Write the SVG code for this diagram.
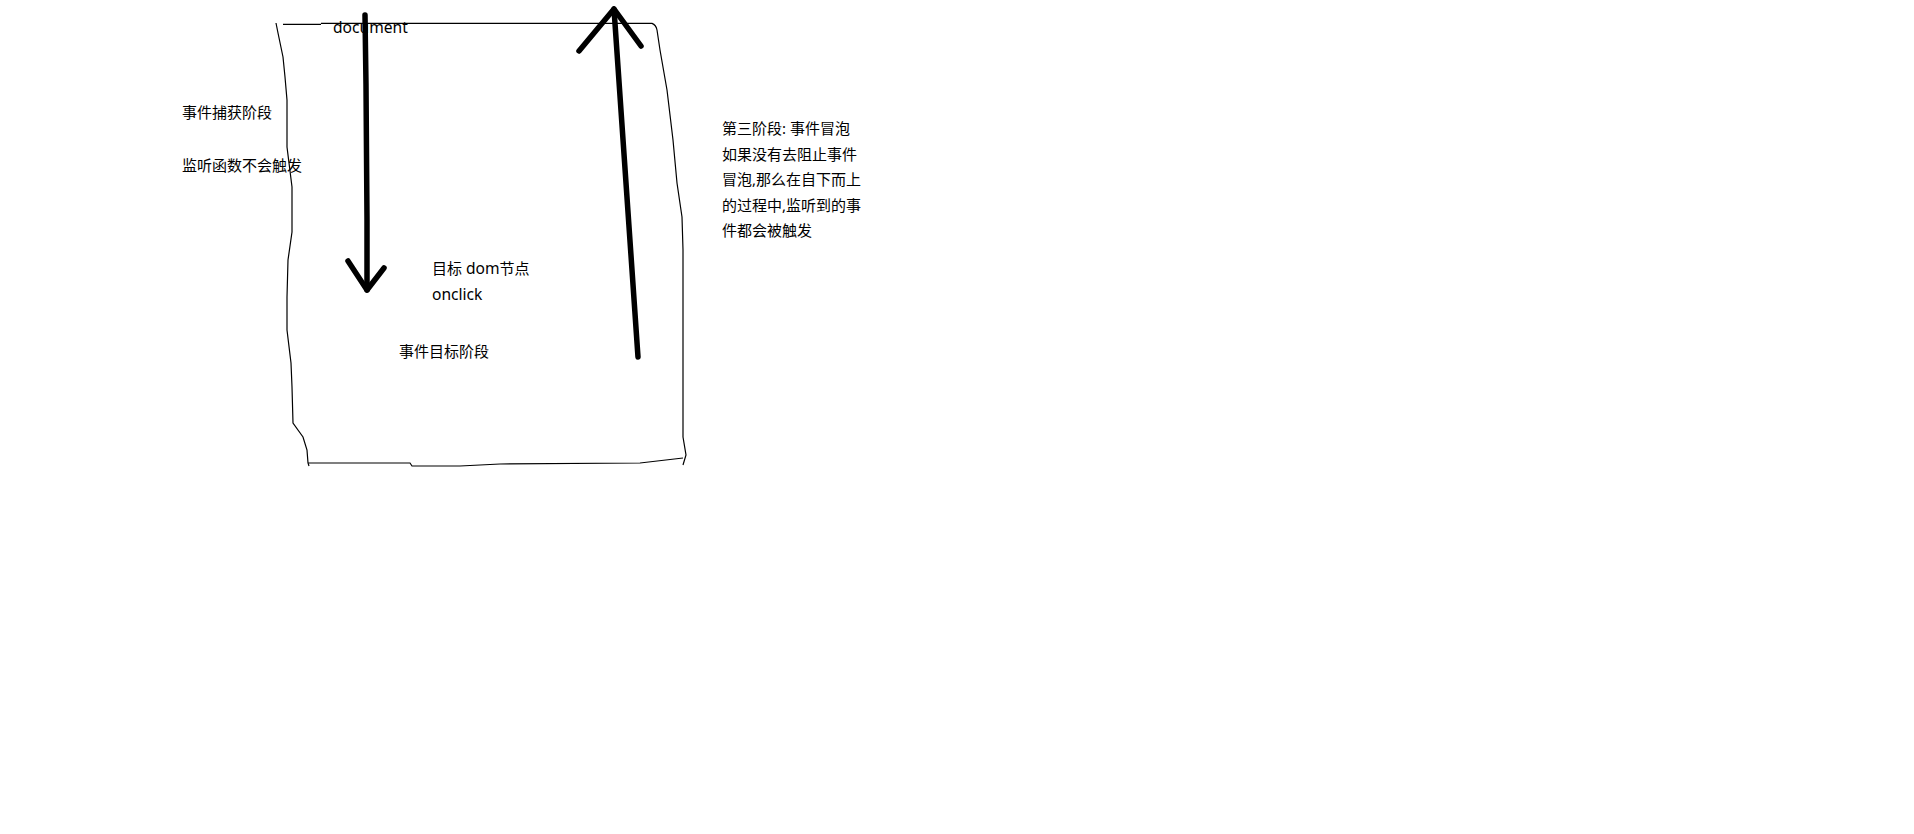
<svg xmlns="http://www.w3.org/2000/svg" width="1914" height="834" viewBox="0 0 1914 834">
<style>
.t{font-family:"Noto Sans","Noto Sans CJK SC",sans-serif;font-size:15px;fill:#000}
.l{font-size:15.6px}
.frame{fill:none;stroke:#000;stroke-width:1.2}
.arr{fill:none;stroke:#000;stroke-width:5.5;stroke-linecap:round;stroke-linejoin:round}
</style>
<rect width="1914" height="834" fill="#fff"/>
<g id="labels">
<text class="t l" x="333" y="33">document</text>
<text class="t" x="182" y="118">事件捕获阶段</text>
<text class="t" x="182" y="171">监听函数不会触发</text>
<text class="t" x="432" y="274">目标 <tspan class="l">dom</tspan>节点</text>
<text class="t l" x="432" y="300">onclick</text>
<text class="t" x="399" y="357">事件目标阶段</text>
<g id="bubble-note">
<text class="t" x="722" y="134">第三阶段: 事件冒泡</text>
<text class="t" x="722" y="159.6">如果没有去阻止事件</text>
<text class="t" x="722" y="185.2">冒泡,那么在自下而上</text>
<text class="t" x="722" y="210.8">的过程中,监听到的事</text>
<text class="t" x="722" y="236.4">件都会被触发</text>
</g>
</g>
<g id="frame">
<path class="frame" d="M283,24.3 L321,24.3 M321,23.4 L652,23.4 Q656,25 657,30 L660,50 L667,90 L673,140 L677,183 L682,217 L683,250 L683,437 L686,455 L683,465"/>
<path class="frame" d="M276,23 L278,33 L283,57 L285,77 L287,100 L287,147 L289,163 L292,187 L292,232 L288,260 L287,297 L287,330 L291,363 L292,387 L293,423 L303,437 L307,450 L308,463 L309,466"/>
<path class="frame" d="M308,463 L410,463 L412,466 L460,466 L500,464 L640,463 L683,458"/>
</g>
<g id="connectors">
<path class="arr" d="M365,15 L366,85 L367,220 L367,290"/>
<path class="arr" d="M348,261 L367,290 L384,268"/>
<path class="arr" d="M614,9 L638,357"/>
<path class="arr" d="M579,51 L614,9 L641,46"/>
</g>
</svg>
